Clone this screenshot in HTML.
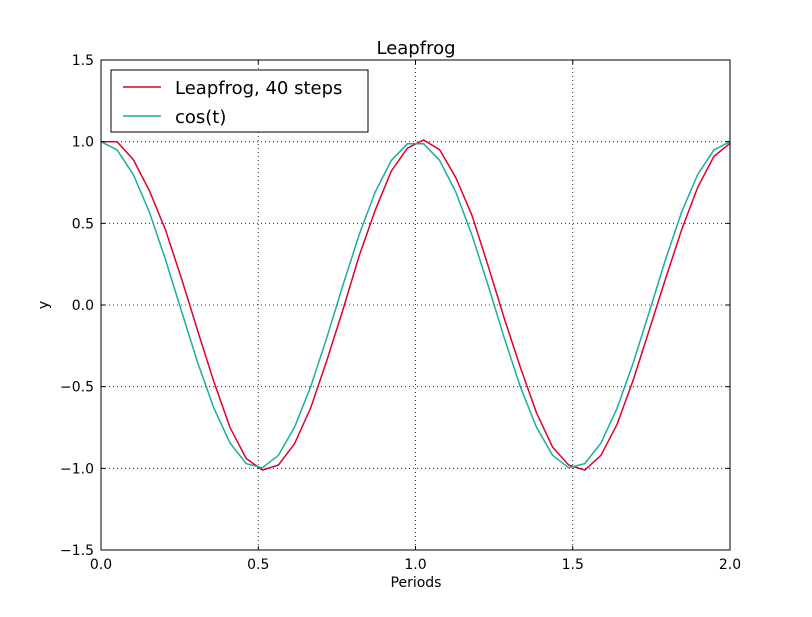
<!DOCTYPE html>
<html><head><meta charset="utf-8"><style>
body{margin:0;background:#fff;}
text{font-family:"DejaVu Sans","Liberation Sans",sans-serif;fill:#000;}
</style></head><body>
<svg id="chart" width="812" height="612" viewBox="0 0 812 612">
<rect x="0" y="0" width="812" height="612" fill="#fff"/>
<text x="416" y="54" font-size="18" text-anchor="middle">Leapfrog</text>
<g id="grid"></g>
<g id="series"></g>
<rect x="101" y="60" width="629" height="490" fill="none" stroke="#000" stroke-width="1"/>
<g id="ticks"></g>
<text x="416" y="587" font-size="14" text-anchor="middle">Periods</text>
<text x="48" y="305" font-size="14" text-anchor="middle" transform="rotate(-90 48 305)">y</text>
<g>
<rect x="111" y="70" width="257" height="62" fill="#fff" stroke="#000"/>
<line x1="123" y1="87" x2="161" y2="87" stroke="#e0002a" stroke-width="1.5"/>
<text x="175" y="94" font-size="18">Leapfrog, 40 steps</text>
<line x1="123" y1="116" x2="161" y2="116" stroke="#1aae9f" stroke-width="1.5"/>
<text x="175" y="123" font-size="18">cos(t)</text>
</g>
</svg>
<script>
const xTicks=[0,0.5,1.0,1.5,2.0];
const xTickLabels=["0.0","0.5","1.0","1.5","2.0"];
const yTicks=[-1.5,-1.0,-0.5,0,0.5,1.0,1.5];
const yTickLabels=["\u22121.5","\u22121.0","\u22120.5","0.0","0.5","1.0","1.5"];
const xMax=2.0;
const leapfrogValues=[1.0,1.0,0.89,0.70,0.46,0.16,-0.16,-0.47,-0.75,-0.94,-1.01,-0.98,-0.85,-0.63,-0.34,-0.03,0.30,0.58,0.82,0.96,1.01,0.95,0.78,0.55,0.24,-0.08,-0.38,-0.66,-0.87,-0.98,-1.01,-0.92,-0.73,-0.46,-0.15,0.16,0.46,0.72,0.91,0.99];
const cosValues=[1,0.949,0.799,0.569,0.278,-0.040,-0.355,-0.632,-0.845,-0.971,-0.997,-0.920,-0.749,-0.5,-0.200,0.120,0.429,0.692,0.885,0.987,0.987,0.885,0.692,0.429,0.120,-0.200,-0.5,-0.749,-0.920,-0.997,-0.971,-0.845,-0.632,-0.355,-0.040,0.278,0.569,0.799,0.949,1];
const NS="http://www.w3.org/2000/svg";
const L=101,R=730,T=60,B=550;
const xs=v=>L+(v-0)/(2-0)*(R-L);
const ys=v=>B-(v+1.5)/3*(B-T);
const grid=document.getElementById('grid'),ticks=document.getElementById('ticks'),series=document.getElementById('series');
function mk(tag,attrs,parent){const e=document.createElementNS(NS,tag);for(const k in attrs)e.setAttribute(k,attrs[k]);parent.appendChild(e);return e;}
xTicks.forEach((v,i)=>{
 const x=xs(v);
 const g=mk('line',{x1:x,x2:x,y1:T,y2:B,stroke:'#000','stroke-dasharray':'1,3','stroke-width':0.8},grid);
 
 
 const t1=mk('line',{x1:x,x2:x,y1:B,y2:B-4,stroke:'#000'},ticks);
 
 
 const t2=mk('line',{x1:x,x2:x,y1:T,y2:T+4,stroke:'#000'},ticks);
 
 
 const tx=mk('text',{x:x,y:569,'font-size':14,'text-anchor':'middle'},ticks);tx.textContent=xTickLabels[i];
 
 
});
yTicks.forEach((v,i)=>{
 const y=ys(v);
 const g=mk('line',{x1:L,x2:R,y1:y,y2:y,stroke:'#000','stroke-dasharray':'1,3','stroke-width':0.8},grid);
 
 
 const t1=mk('line',{x1:L,x2:L+4,y1:y,y2:y,stroke:'#000'},ticks);
 
 
 const t2=mk('line',{x1:R,x2:R-4,y1:y,y2:y,stroke:'#000'},ticks);
 
 
 const tx=mk('text',{x:94,y:y+5,'font-size':14,'text-anchor':'end'},ticks);tx.textContent=yTickLabels[i];
 
 
});
function line(vals,color,name){
 const n=vals.length-1;
 const pts=vals.map((v,i)=>xs(i*xMax/n).toFixed(1)+','+ys(v).toFixed(1)).join(' ');
 const p=mk('polyline',{points:pts,fill:'none',stroke:color,'stroke-width':1.5},series);
 
 
}
line(leapfrogValues,'#e0002a','leapfrog-line');
line(cosValues,'#1aae9f','cos-line');
</script>
</body></html>
